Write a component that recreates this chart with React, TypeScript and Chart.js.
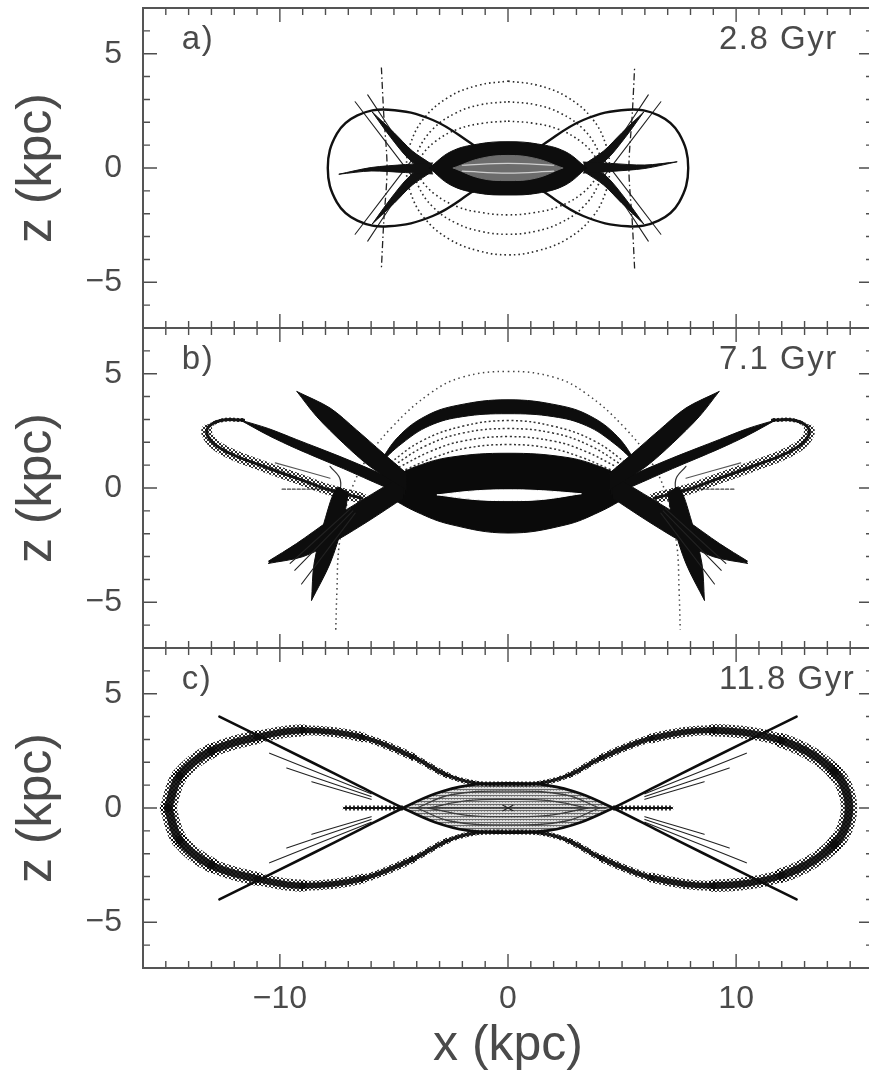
import { useEffect, useRef } from 'react';
import { Chart, registerables } from 'chart.js';

Chart.register(...registerables);

type Pt = [number, number];

// ---------- axes, tick labels, panel captions ----------
const xRange: Pt = [-16, 16];
const zRange: Pt = [-7, 7];
const xTickLabels = [-10, 0, 10];
const zTickLabels = [-5, 0, 5];
const panelTags = ['a)', 'b)', 'c)'];
const panelAges = ['2.8 Gyr', '7.1 Gyr', '11.8 Gyr'];

// ---------- panel a (2.8 Gyr) ----------
const figureEightA: Pt[] = [
  [0, 0], [-1.5, 1.0], [-3.3, 2.1], [-5.25, 2.55], [-6.6, 2.3], [-7.5, 1.5], [-7.9, 0],
  [-7.5, -1.5], [-6.6, -2.3], [-5.25, -2.55], [-3.3, -2.1], [-1.5, -1.0], [0, 0],
  [1.5, 1.0], [3.3, 2.1], [5.25, 2.55], [6.6, 2.3], [7.5, 1.5], [7.9, 0],
  [7.5, -1.5], [6.6, -2.3], [5.25, -2.55], [3.3, -2.1], [1.5, -1.0], [0, 0],
];
const ringOuterA: Pt[] = [
  [0, 3.8], [1.3, 3.62], [2.6, 3.1], [3.7, 2.15], [4.3, 1.0], [4.45, 0], [4.3, -1.0], [3.7, -2.15], [2.6, -3.1],
  [1.3, -3.62], [0, -3.8], [-1.3, -3.62], [-2.6, -3.1], [-3.7, -2.15], [-4.3, -1.0], [-4.45, 0], [-4.3, 1.0],
  [-3.7, 2.15], [-2.6, 3.1], [-1.3, 3.62], [0, 3.8],
];
const ringMidA: Pt[] = [
  [0, 2.9], [1.2, 2.77], [2.3, 2.4], [3.3, 1.7], [3.95, 0.75], [4.1, 0], [3.95, -0.75], [3.3, -1.7], [2.3, -2.4],
  [1.2, -2.77], [0, -2.9], [-1.2, -2.77], [-2.3, -2.4], [-3.3, -1.7], [-3.95, -0.75], [-4.1, 0], [-3.95, 0.75],
  [-3.3, 1.7], [-2.3, 2.4], [-1.2, 2.77], [0, 2.9],
];
const ringInnerA: Pt[] = [
  [0, 2.05], [1.1, 1.96], [2.2, 1.7], [3.2, 1.15], [3.85, 0.45], [4.0, 0], [3.85, -0.45], [3.2, -1.15], [2.2, -1.7],
  [1.1, -1.96], [0, -2.05], [-1.1, -1.96], [-2.2, -1.7], [-3.2, -1.15], [-3.85, -0.45], [-4.0, 0], [-3.85, 0.45],
  [-3.2, 1.15], [-2.2, 1.7], [-1.1, 1.96], [0, 2.05],
];
const lensTopA: Pt[] = [[-3.45, 0], [-2.5, 0.72], [-1.3, 1.05], [0, 1.15], [1.3, 1.05], [2.5, 0.72], [3.45, 0]];
const lensBotA: Pt[] = [[-3.45, 0], [-2.5, -0.75], [-1.3, -1.1], [0, -1.18], [1.3, -1.1], [2.5, -0.75], [3.45, 0]];
const coreTopA: Pt[] = [[-2.4, 0], [-1.2, 0.42], [0, 0.55], [1.2, 0.42], [2.4, 0]];
const coreBotA: Pt[] = [[-2.4, 0], [-1.2, -0.45], [0, -0.55], [1.2, -0.45], [2.4, 0]];
const streakA1: Pt[] = [[-2.0, 0.12], [0, 0.2], [2.0, 0.12]];
const streakA2: Pt[] = [[-2.0, -0.14], [0, -0.22], [2.0, -0.14]];
const spikeLeftTopA: Pt[] = [[-7.4, -0.27], [-6.0, 0.02], [-4.5, 0.15], [-3.3, 0.22]];
const spikeLeftBotA: Pt[] = [[-7.4, -0.27], [-6.0, -0.13], [-4.5, -0.2], [-3.3, -0.26]];
const spikeRightTopA: Pt[] = [[3.3, 0.26], [4.5, 0.2], [6.0, 0.13], [7.4, 0.27]];
const spikeRightBotA: Pt[] = [[3.3, -0.22], [4.5, -0.15], [6.0, -0.02], [7.4, 0.27]];
const hornOuterA: Pt[] = [[-5.95, 2.45], [-5.0, 1.55], [-4.2, 0.75], [-3.4, 0.2]];
const hornInnerA: Pt[] = [[-5.95, 2.45], [-5.15, 1.35], [-4.3, 0.35], [-3.4, -0.2]];
const rayA1: Pt[] = [[-6.7, 2.9], [-4.1, -0.5]];
const rayA2: Pt[] = [[-6.15, 3.2], [-3.9, -0.2]];
const vertLeftA: Pt[] = [[-5.55, 4.4], [-5.45, 2.4], [-5.3, 0], [-5.45, -2.4], [-5.55, -4.4]];

// ---------- panel b (7.1 Gyr) ----------
const bigArcB: Pt[] = [
  [-7.55, -6.2], [-7.5, -4.5], [-7.4, -2.5], [-7.0, -0.5], [-6.3, 1.1], [-5.1, 2.65], [-3.4, 4.15], [-2.0, 4.85],
  [0, 5.1], [2.0, 4.85], [3.4, 4.15], [5.1, 2.65], [6.3, 1.1], [7.0, -0.5], [7.4, -2.5], [7.5, -4.5], [7.55, -6.2],
];
const archOuterB: Pt[] = [[-5.7, 1.0], [-4.8, 2.25], [-3.6, 3.15], [-2.2, 3.62], [0, 3.86], [2.2, 3.62], [3.6, 3.15], [4.8, 2.25], [5.7, 1.0]];
const archInnerB: Pt[] = [[-5.7, 1.0], [-4.65, 1.95], [-3.45, 2.72], [-2.0, 3.12], [0, 3.25], [2.0, 3.12], [3.45, 2.72], [4.65, 1.95], [5.7, 1.0]];
const archDots1B: Pt[] = [[-5.3, 1.0], [-3.8, 2.05], [-2.0, 2.7], [0, 2.95], [2.0, 2.7], [3.8, 2.05], [5.3, 1.0]];
const archDots2B: Pt[] = [[-5.0, 1.0], [-3.6, 1.85], [-2.0, 2.4], [0, 2.6], [2.0, 2.4], [3.6, 1.85], [5.0, 1.0]];
const archDots3B: Pt[] = [[-4.8, 0.9], [-3.4, 1.6], [-2.0, 2.05], [0, 2.25], [2.0, 2.05], [3.4, 1.6], [4.8, 0.9]];
const archDots4B: Pt[] = [[-4.5, 0.8], [-3.2, 1.35], [-1.8, 1.75], [0, 1.9], [1.8, 1.75], [3.2, 1.35], [4.5, 0.8]];
const lensTopB: Pt[] = [[-5.3, 0.35], [-4.0, 0.95], [-2.5, 1.35], [0, 1.52], [2.5, 1.35], [4.0, 0.95], [5.3, 0.35]];
const lensBotB: Pt[] = [[-5.3, -0.35], [-4.0, -1.05], [-2.5, -1.6], [0, -1.97], [2.5, -1.62], [4.0, -1.05], [5.3, -0.35]];
const eyeTopB: Pt[] = [[-3.1, -0.3], [-1.5, -0.13], [0, -0.08], [1.5, -0.12], [3.2, -0.25]];
const eyeBotB: Pt[] = [[-3.1, -0.3], [-1.5, -0.5], [0, -0.55], [1.5, -0.5], [3.2, -0.25]];
const blade1TopB: Pt[] = [[-9.25, 4.22], [-7.8, 3.5], [-6.64, 2.54], [-5.47, 1.52], [-4.44, 0.64]];
const blade1BotB: Pt[] = [[-9.25, 4.22], [-8.39, 3.13], [-7.22, 1.96], [-6.05, 0.94], [-4.44, -0.09]];
const blade2TopB: Pt[] = [[-10.5, -3.2], [-9.27, -2.43], [-7.8, -1.4], [-6.35, -0.5], [-4.6, 0.55]];
const blade2BotB: Pt[] = [[-10.5, -3.3], [-8.98, -3.0], [-7.5, -2.28], [-6.05, -1.4], [-4.6, -0.45]];
const handleTopB: Pt[] = [[-11.75, 2.98], [-10.5, 2.6], [-9.27, 2.12], [-7.22, 1.32], [-5.47, 0.58], [-4.5, 0.15]];
const handleBotB: Pt[] = [[-11.75, 2.98], [-10.5, 2.3], [-9.27, 1.72], [-7.22, 0.85], [-5.47, 0.08], [-4.5, -0.3]];
const loopB: Pt[] = [
  [-11.6, 2.98], [-12.6, 2.95], [-13.2, 2.55], [-12.95, 2.0], [-12.2, 1.52],
  [-10.7, 0.94], [-9.27, 0.43], [-7.8, -0.09], [-6.4, -0.45],
];
const spikeOuterB: Pt[] = [[-8.61, -4.91], [-8.5, -3.3], [-8.0, -1.3], [-7.5, 0.0], [-7.0, -0.2]];
const spikeInnerB: Pt[] = [[-8.61, -4.91], [-7.8, -3.3], [-7.25, -1.6], [-7.0, -0.2]];
const fan1B: Pt[] = [[-6.9, -0.9], [-9.55, -3.3]];
const fan2B: Pt[] = [[-6.8, -1.0], [-9.35, -3.6]];
const fan3B: Pt[] = [[-6.7, -1.1], [-9.05, -4.2]];
const threadB: Pt[] = [[-10.2, 1.1], [-7.8, 0.43]];
const dashB: Pt[] = [[-9.9, -0.05], [-7.8, -0.05]];
const hookB: Pt[] = [[-7.8, 0.95], [-7.35, 0.35], [-7.45, -0.6]];

// ---------- panel c (11.8 Gyr) ----------
const bowTieC: Pt[] = [
  [-14.9, 0], [-14.4, 1.4], [-13.0, 2.5], [-11.0, 3.1], [-9.0, 3.4], [-6.4, 3.1], [-4.2, 2.25], [-2.7, 1.45],
  [-1.5, 1.1], [0, 1.05], [1.5, 1.1], [2.7, 1.45], [4.1, 2.2], [6.3, 3.05], [9.0, 3.4], [12.0, 2.95], [14.3, 1.6],
  [14.95, 0], [14.3, -1.6], [12.0, -2.95], [9.0, -3.4], [6.3, -3.05], [4.1, -2.2], [2.7, -1.45], [1.5, -1.1],
  [0, -1.05], [-1.5, -1.1], [-2.7, -1.45], [-4.2, -2.25], [-6.4, -3.1], [-9.0, -3.4], [-11.0, -3.1], [-13.0, -2.5],
  [-14.4, -1.4], [-14.9, 0],
];
const smileC: Pt[] = [
  [-12.65, 4.0], [-8.6, 2.0], [-6.6, 1.0], [-4.6, 0], [-3.2, -0.62], [-1.8, -0.98], [0, -1.08],
  [1.8, -0.98], [3.2, -0.62], [4.6, 0], [6.6, 1.0], [8.6, 2.0], [12.65, 4.0],
];
const lensTopC: Pt[] = [[-4.6, 0], [-3.2, 0.62], [-1.8, 0.98], [0, 1.08], [1.8, 0.98], [3.2, 0.62], [4.6, 0]];
const inner1C: Pt[] = [[-4.0, 0], [-2.5, 0.58], [0, 0.74], [2.5, 0.58], [4.0, 0]];
const inner2C: Pt[] = [[-3.5, 0], [-1.8, 0.32], [0, 0.38], [1.8, 0.32], [3.5, 0]];
const midLineC: Pt[] = [[-4.3, 0], [4.3, 0]];
const ray1C: Pt[] = [[-10.45, 2.4], [-6.0, 0.62]];
const ray2C: Pt[] = [[-9.7, 1.75], [-6.0, 0.5]];
const ray3C: Pt[] = [[-8.6, 1.15], [-6.0, 0.38]];
const barC: Pt[] = [[-7.15, 0], [-4.6, 0]];
const crossC1: Pt[] = [[-0.22, -0.12], [0.22, 0.12]];
const crossC2: Pt[] = [[-0.22, 0.12], [0.22, -0.12]];

// ---------- helpers ----------
const FONT = "'Liberation Sans', Arial, sans-serif";
const TEXT = '#4a4a4a';

const toXY = (a: Pt[]) => a.map(([x, y]) => ({ x, y }));
// mirror left/right; reversed so fill pairs keep ascending x
const flipX = (a: Pt[]): Pt[] => a.map(([x, y]) => [-x, y] as Pt).reverse();
const flipY = (a: Pt[]): Pt[] => a.map(([x, y]) => [x, -y] as Pt);

const stroke = (a: Pt[], color: any, width: number, extra: any = {}) => ({
  data: toXY(a),
  borderColor: color,
  borderWidth: width,
  backgroundColor: 'transparent',
  pointRadius: 0,
  pointHoverRadius: 0,
  tension: 0.4,
  fill: false,
  borderCapStyle: 'round',
  borderJoinStyle: 'round',
  ...extra,
});

// closed black (or patterned) area between two edges sharing their end x values
const area = (top: Pt[], bottom: Pt[], color: any, tension = 0.4) => [
  stroke(top, color, 1, { tension }),
  stroke(bottom, color, 1, { tension, fill: '-1', backgroundColor: color }),
];

const dotted = { borderDash: [1.6, 3], borderCapStyle: 'butt' };
const dashDot = { borderDash: [7, 3, 1.5, 3], borderCapStyle: 'butt', tension: 0.3 };

function crossPattern(alpha: number) {
  const c = document.createElement('canvas');
  c.width = 4;
  c.height = 4;
  const g = c.getContext('2d')!;
  g.strokeStyle = `rgba(0,0,0,${alpha})`;
  g.lineWidth = 0.9;
  g.beginPath();
  g.moveTo(0, 0); g.lineTo(4, 4);
  g.moveTo(4, 0); g.lineTo(0, 4);
  g.stroke();
  return g.createPattern(c, 'repeat')!;
}

function hatchPattern() {
  const c = document.createElement('canvas');
  c.width = 3;
  c.height = 3;
  const g = c.getContext('2d')!;
  g.fillStyle = '#dcdcdc';
  g.fillRect(0, 0, 3, 3);
  g.fillStyle = '#6a6a6a';
  g.fillRect(0, 0, 3, 1);
  g.fillStyle = '#9a9a9a';
  g.fillRect(1, 1, 1, 1);
  return g.createPattern(c, 'repeat')!;
}

const layered = (list: any[]) => list.map((d, i) => ({ ...d, order: list.length - i }));

function panelA() {
  const L: any[] = [];
  for (const ring of [ringOuterA, ringMidA, ringInnerA]) L.push(stroke(ring, '#2b2b2b', 1.6, dotted));
  L.push(stroke(vertLeftA, '#222', 1.3, dashDot), stroke(flipX(vertLeftA), '#222', 1.3, dashDot));
  for (const r of [rayA1, rayA2]) {
    L.push(stroke(r, '#222', 1.1), stroke(flipY(r), '#222', 1.1));
    L.push(stroke(flipX(r), '#222', 1.1), stroke(flipX(flipY(r)), '#222', 1.1));
  }
  L.push(stroke(figureEightA, '#111', 2.4));
  L.push(...area(hornOuterA, hornInnerA, '#111', 0.3));
  L.push(...area(flipY(hornInnerA), flipY(hornOuterA), '#111', 0.3));
  L.push(...area(flipX(hornOuterA), flipX(hornInnerA), '#111', 0.3));
  L.push(...area(flipX(flipY(hornInnerA)), flipX(flipY(hornOuterA)), '#111', 0.3));
  L.push(...area(spikeLeftTopA, spikeLeftBotA, '#111', 0.3));
  L.push(...area(spikeRightTopA, spikeRightBotA, '#111', 0.3));
  L.push(...area(lensTopA, lensBotA, '#0d0d0d'));
  L.push(...area(coreTopA, coreBotA, '#6c6c6c'));
  L.push(stroke(streakA1, '#cfcfcf', 1.2), stroke(streakA2, '#cfcfcf', 1.2));
  return layered(L);
}

function panelB(cross: CanvasPattern) {
  const L: any[] = [];
  L.push(stroke(bigArcB, '#444', 1.5, { borderDash: [1.5, 3.5], borderCapStyle: 'butt' }));
  for (const d of [archDots1B, archDots2B, archDots3B, archDots4B]) {
    L.push(stroke(d, '#333', 1.5, { borderDash: [2, 2.5], borderCapStyle: 'butt' }));
  }
  L.push(...area(archInnerB, archOuterB, '#0d0d0d'));
  L.push(...area(lensTopB, lensBotB, '#0a0a0a'));
  L.push(...area(eyeTopB, eyeBotB, '#ffffff'));
  for (const flip of [false, true]) {
    const m = (a: Pt[]) => (flip ? flipX(a) : a);
    // the loop's upper rim is a thin line, its lower side a broad hatched band
    const loopBand = (c: any) => {
      const i = flip ? loopB.length - 2 - c.p0DataIndex : c.p0DataIndex;
      return i < 2 ? 4 : 11;
    };
    L.push(stroke(m(threadB), '#555', 1.1), stroke(m(dashB), '#444', 1.3, { borderDash: [3, 2] }));
    L.push(stroke(m(hookB), '#333', 1.2));
    L.push(stroke(m(loopB), cross, 11, { segment: { borderWidth: loopBand } }));
    L.push(stroke(m(loopB), '#151515', 3));
    L.push(...area(m(handleTopB), m(handleBotB), '#0d0d0d', 0.3));
    L.push(...area(m(blade2TopB), m(blade2BotB), '#0d0d0d', 0.3));
    L.push(...area(m(blade1TopB), m(blade1BotB), '#0d0d0d', 0.3));
    L.push(...area(m(spikeOuterB), m(spikeInnerB), '#0d0d0d', 0.3));
    for (const f of [fan1B, fan2B, fan3B]) L.push(stroke(m(f), '#222', 1.1));
  }
  return layered(L);
}

function panelC(cross: CanvasPattern, hatch: CanvasPattern) {
  const L: any[] = [];
  const bandWidth = (c: any) => {
    const a = bowTieC[c.p0DataIndex];
    const b = bowTieC[c.p1DataIndex];
    const m = Math.abs((a[0] + b[0]) / 2);
    return 5 + 0.9 * Math.max(0, m - 2);
  };
  L.push(...area(lensTopC, flipY(lensTopC), hatch));
  L.push(stroke(inner1C, '#3c3c3c', 1.3), stroke(flipY(inner1C), '#3c3c3c', 1.3));
  L.push(stroke(inner2C, '#3c3c3c', 1.3), stroke(flipY(inner2C), '#3c3c3c', 1.3));
  L.push(stroke(midLineC, '#333', 1.6));
  for (const r of [ray1C, ray2C, ray3C]) {
    L.push(stroke(r, '#222', 1.1), stroke(flipY(r), '#222', 1.1));
    L.push(stroke(flipX(r), '#222', 1.1), stroke(flipX(flipY(r)), '#222', 1.1));
  }
  L.push(stroke(barC, cross, 5), stroke(barC, '#111', 2));
  L.push(stroke(flipX(barC), cross, 5), stroke(flipX(barC), '#111', 2));
  L.push(stroke(bowTieC, cross, 1, { tension: 0.35, segment: { borderWidth: bandWidth } }));
  L.push(stroke(bowTieC, 'rgba(12,12,12,0.9)', 1, {
    tension: 0.35,
    segment: { borderWidth: (c: any) => bandWidth(c) * 0.45 + 1 },
  }));
  L.push(stroke(smileC, '#0d0d0d', 2.6, { tension: 0.35 }));
  L.push(stroke(flipY(smileC), '#0d0d0d', 2.6, { tension: 0.35 }));
  L.push(stroke(crossC1, '#222', 1.2), stroke(crossC2, '#222', 1.2));
  return layered(L);
}

const minus = (v: number) => (v < 0 ? '\u2212' + Math.abs(v) : String(v));

// frame with inward ticks on all four sides, plus panel captions
const frameTicks = {
  id: 'frameTicks',
  afterDatasetsDraw(chart: any, _args: any, opts: any) {
    const { ctx, chartArea: a, scales } = chart;
    const sx = scales.x;
    const sy = scales.y;
    ctx.save();
    ctx.strokeStyle = '#4e4e4e';
    ctx.lineWidth = 1.4;
    ctx.beginPath();
    for (let v = xRange[0] + 1; v < xRange[1]; v++) {
      const p = sx.getPixelForValue(v);
      const len = v % 10 === 0 ? 14 : 7;
      ctx.moveTo(p, a.bottom); ctx.lineTo(p, a.bottom - len);
      ctx.moveTo(p, a.top); ctx.lineTo(p, a.top + len);
    }
    for (let v = zRange[0] + 1; v < zRange[1]; v++) {
      const p = sy.getPixelForValue(v);
      const len = v % 5 === 0 ? 14 : 7;
      ctx.moveTo(a.left, p); ctx.lineTo(a.left + len, p);
      ctx.moveTo(a.right, p); ctx.lineTo(a.right - len, p);
    }
    ctx.stroke();
    ctx.strokeStyle = '#555';
    ctx.lineWidth = 2;
    ctx.strokeRect(a.left, a.top, a.right - a.left, a.bottom - a.top);
    ctx.fillStyle = TEXT;
    ctx.font = `33px ${FONT}`;
    ctx.textAlign = 'left';
    ctx.textBaseline = 'alphabetic';
    if ('letterSpacing' in ctx) (ctx as any).letterSpacing = '1.5px';
    ctx.fillText(opts.tag, sx.getPixelForValue(-14.3), sy.getPixelForValue(5.2));
    ctx.fillText(opts.age, sx.getPixelForValue(9.25), sy.getPixelForValue(5.2));
    ctx.restore();
  },
};

function makeConfig(idx: number, datasets: any[], showX: boolean): any {
  return {
    type: 'line',
    data: { datasets },
    plugins: [frameTicks],
    options: {
      responsive: false,
      animation: false,
      events: [],
      layout: { padding: { top: idx === 0 ? 8 : 0, right: 3, left: 0, bottom: 0 } },
      plugins: {
        legend: { display: false },
        tooltip: { enabled: false },
        frameTicks: { tag: panelTags[idx], age: panelAges[idx] },
      },
      scales: {
        x: {
          type: 'linear',
          min: xRange[0],
          max: xRange[1],
          display: showX,
          grid: { display: false, drawTicks: false },
          border: { display: false },
          afterBuildTicks: (s: any) => { s.ticks = xTickLabels.map((v) => ({ value: v })); },
          afterFit: (s: any) => {
            s.height = showX ? 104 : 0;
            s.paddingLeft = 0;
            s.paddingRight = 0;
          },
          ticks: {
            font: { family: FONT, size: 32 },
            color: TEXT,
            padding: 12,
            maxRotation: 0,
            autoSkip: false,
            callback: (v: number) => minus(v),
          },
          title: {
            display: true,
            text: 'x (kpc)',
            font: { family: FONT, size: 50 },
            color: TEXT,
            padding: { top: 0, bottom: -4 },
          },
        },
        y: {
          type: 'linear',
          position: 'left',
          min: zRange[0],
          max: zRange[1],
          grid: { display: false, drawTicks: false },
          border: { display: false },
          afterBuildTicks: (s: any) => { s.ticks = zTickLabels.map((v) => ({ value: v })); },
          afterFit: (s: any) => { s.width = 143; s.paddingTop = 0; s.paddingBottom = 0; },
          ticks: {
            font: { family: FONT, size: 32 },
            color: TEXT,
            padding: 21,
            autoSkip: false,
            callback: (v: number) => minus(v),
          },
          title: {
            display: true,
            text: 'z (kpc)',
            font: { family: FONT, size: 50 },
            color: TEXT,
            padding: { top: 7, bottom: 0 },
          },
        },
      },
    },
  };
}

export default function App() {
  const refA = useRef<HTMLCanvasElement>(null);
  const refB = useRef<HTMLCanvasElement>(null);
  const refC = useRef<HTMLCanvasElement>(null);

  useEffect(() => {
    const cross = crossPattern(0.9);
    const hatch = hatchPattern();
    const charts = [
      new Chart(refA.current!, makeConfig(0, panelA(), false)),
      new Chart(refB.current!, makeConfig(1, panelB(cross), false)),
      new Chart(refC.current!, makeConfig(2, panelC(cross, hatch), true)),
    ];
    return () => charts.forEach((c) => c.destroy());
  }, []);

  return (
    <div
      style={{
        position: 'absolute',
        left: 0,
        top: 0,
        width: 869,
        height: 1072,
        overflow: 'hidden',
        background: '#fff',
      }}
    >
      <canvas ref={refA} width={876} height={328} style={{ position: 'absolute', left: 0, top: 0 }} />
      <canvas ref={refB} width={876} height={320} style={{ position: 'absolute', left: 0, top: 328 }} />
      <canvas ref={refC} width={876} height={424} style={{ position: 'absolute', left: 0, top: 648 }} />
    </div>
  );
}
